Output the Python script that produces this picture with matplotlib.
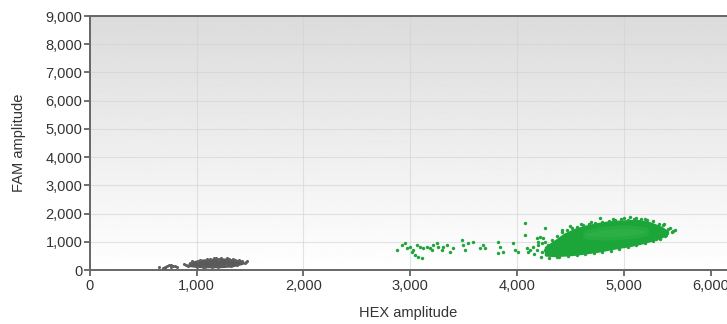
import numpy as np
import matplotlib
matplotlib.use("Agg")
import matplotlib.pyplot as plt

plt.rcParams['font.family'] = ['Liberation Sans', 'DejaVu Sans']

# --- data (HEX, FAM amplitude) ---
# dense green droplet cluster, outline per HEX column
green_x = [4270, 4350, 4450, 4550, 4650, 4750, 4850, 4950, 5050, 5150, 5250, 5350, 5410]
green_lo = [540, 520, 540, 570, 620, 670, 740, 810, 870, 950, 1050, 1170, 1300]
green_hi = [800, 1000, 1270, 1440, 1550, 1630, 1690, 1720, 1740, 1740, 1660, 1510, 1360]
# lighter centre of the green cluster
core_x = [4650, 4800, 4950, 5100, 5200]
core_lo = [1220, 1180, 1200, 1250, 1330]
core_hi = [1310, 1420, 1470, 1460, 1400]

# scattered green droplets
green_px = [2874, 2921, 2952, 2968, 2999, 3015, 3030, 3046, 3062, 3077, 3108, 3093,
            3124, 3155, 3187, 3202, 3218, 3249, 3265, 3296, 3311, 3343, 3374, 3405,
            3483, 3499, 3515, 3546, 3593, 3655, 3686, 3702, 3827, 3843, 3827, 3874,
            3968, 3983, 4015, 4077, 4077, 4093, 4108, 4124, 4186, 4202, 4218, 4233,
            4249, 4265, 4186, 4233, 4155, 4280, 4311, 4342,
            # fuzzy rim of the dense cluster
            4230, 4300, 4380, 4420, 4500, 4780, 5000, 5060, 5200, 5380, 5440, 5480,
            5450, 5400, 5300, 4600, 4700, 4900, 5120, 4160, 4200, 4260,
            4330, 4380, 4420, 4470, 4520, 4560, 4620, 4680, 4730, 4800, 4860, 4920,
            4980, 5040, 5100, 5160, 5220, 5280, 5330, 5370, 5420, 5460,
            4400, 4480, 4560, 4640, 4720, 4800, 4880, 4960, 5040, 5120, 5200, 5280,
            5340, 5390, 4290, 4320, 4350, 4260, 4300]
green_py = [709, 886, 945, 768, 827, 650, 709, 532, 886, 473, 414, 827,
            768, 827, 768, 709, 886, 945, 827, 709, 827, 886, 650, 768,
            1063, 886, 709, 945, 1004, 768, 886, 768, 1004, 827, 591, 650,
            945, 709, 650, 1654, 1240, 768, 650, 709, 1122, 1004, 1181, 945,
            1122, 1476, 709, 650, 827, 827, 709, 945,
            450, 420, 470, 1400, 1560, 1830, 1850, 1880, 1810, 1620, 1500, 1420,
            1330, 1250, 1100, 1640, 1700, 1800, 1830, 560, 880, 1000,
            1080, 1220, 1330, 1400, 1480, 1530, 1580, 1620, 1660, 1700, 1740, 1760,
            1790, 1780, 1800, 1790, 1760, 1720, 1640, 1580, 1460, 1380,
            470, 500, 520, 560, 600, 640, 690, 760, 820, 880, 960, 1040,
            1110, 1200, 900, 620, 760, 700, 560]

# grey (negative) droplet clusters
grey_x = [930, 990, 1050, 1150, 1250, 1330, 1390, 1430]
grey_lo = [170, 140, 130, 125, 135, 160, 210, 250]
grey_hi = [220, 300, 340, 370, 380, 350, 320, 290]
grey_px = [650, 680, 700, 720, 740, 760, 780, 800, 820, 760, 700, 900, 940, 1010,
           1100, 1180, 1230, 1300, 1360, 1420, 1460, 1470, 1270, 1080,
           960, 1030, 1120, 1160, 1210, 1280, 1340, 1400, 1000, 1060, 1140, 1200,
           1320, 1380, 1450, 920, 880]
grey_py = [120, 80, 110, 150, 180, 170, 130, 150, 120, 90, 60, 190, 260, 330,
           390, 410, 430, 400, 360, 330, 300, 330, 160, 100,
           330, 370, 400, 420, 380, 420, 380, 340, 120, 110, 100, 110,
           130, 180, 260, 150, 200]

xtick_pos = [0, 1000, 2000, 3000, 4000, 5000, 5820]
xtick_lab = ['0', '1,000', '2,000', '3,000', '4,000', '5,000', '6,000']
yticks = [0, 1000, 2000, 3000, 4000, 5000, 6000, 7000, 8000, 9000]

fig = plt.figure(figsize=(7.27, 3.24), dpi=100)
ax = fig.add_axes([90 / 727, 54 / 324, 637 / 727, 254 / 324])
ax.set_xlim(0, 5970)
ax.set_ylim(0, 9000)

# grey-to-white background gradient
grad = np.linspace(1.0, 0.86, 256).reshape(-1, 1)
ax.imshow(grad, cmap='gray', vmin=0, vmax=1, aspect='auto', origin='lower',
          extent=[0, 5970, 0, 9000], zorder=0)

for v in xtick_pos[1:-1]:
    ax.axvline(v, color='#d2d2d2', lw=0.8, alpha=0.6, zorder=1)
for v in yticks[1:]:
    ax.axhline(v, color='#d2d2d2', lw=0.8, alpha=0.6, zorder=1)

# grey clusters
ax.fill_between(grey_x, grey_lo, grey_hi, color='#5a5a5a', lw=2,
                edgecolor='#5a5a5a', zorder=3)
ax.scatter(grey_px, grey_py, s=5, color='#606060', lw=0, zorder=4)

# green cluster
ax.fill_between(green_x, green_lo, green_hi, color='#1ca63a', lw=2,
                edgecolor='#1ca63a', zorder=3)
ax.fill_between(core_x, core_lo, core_hi, color='#3db84f', lw=5,
                edgecolor='#30b248', alpha=0.45, zorder=3)
ax.scatter(green_px, green_py, s=6, color='#1fa53c', lw=0, zorder=4)

ax.set_xticks(xtick_pos)
ax.set_xticklabels(xtick_lab)
ax.set_yticks(yticks)
ax.set_yticklabels([f'{v:,}' for v in yticks])
ax.tick_params(axis='both', labelsize=10.5, colors='#555555', labelcolor='#333333',
               length=4.5, width=1.2, pad=2)
ax.tick_params(axis='y', pad=1)

for side in ['left', 'bottom', 'top']:
    ax.spines[side].set_color('#666666')
    ax.spines[side].set_linewidth(1.4)
ax.spines['right'].set_visible(False)

ax.set_xlabel('HEX amplitude', fontsize=10.5, color='#333333', labelpad=9)
ax.set_ylabel('FAM amplitude', fontsize=10.5, color='#333333', labelpad=14)

fig.savefig('out.png', dpi=100)
